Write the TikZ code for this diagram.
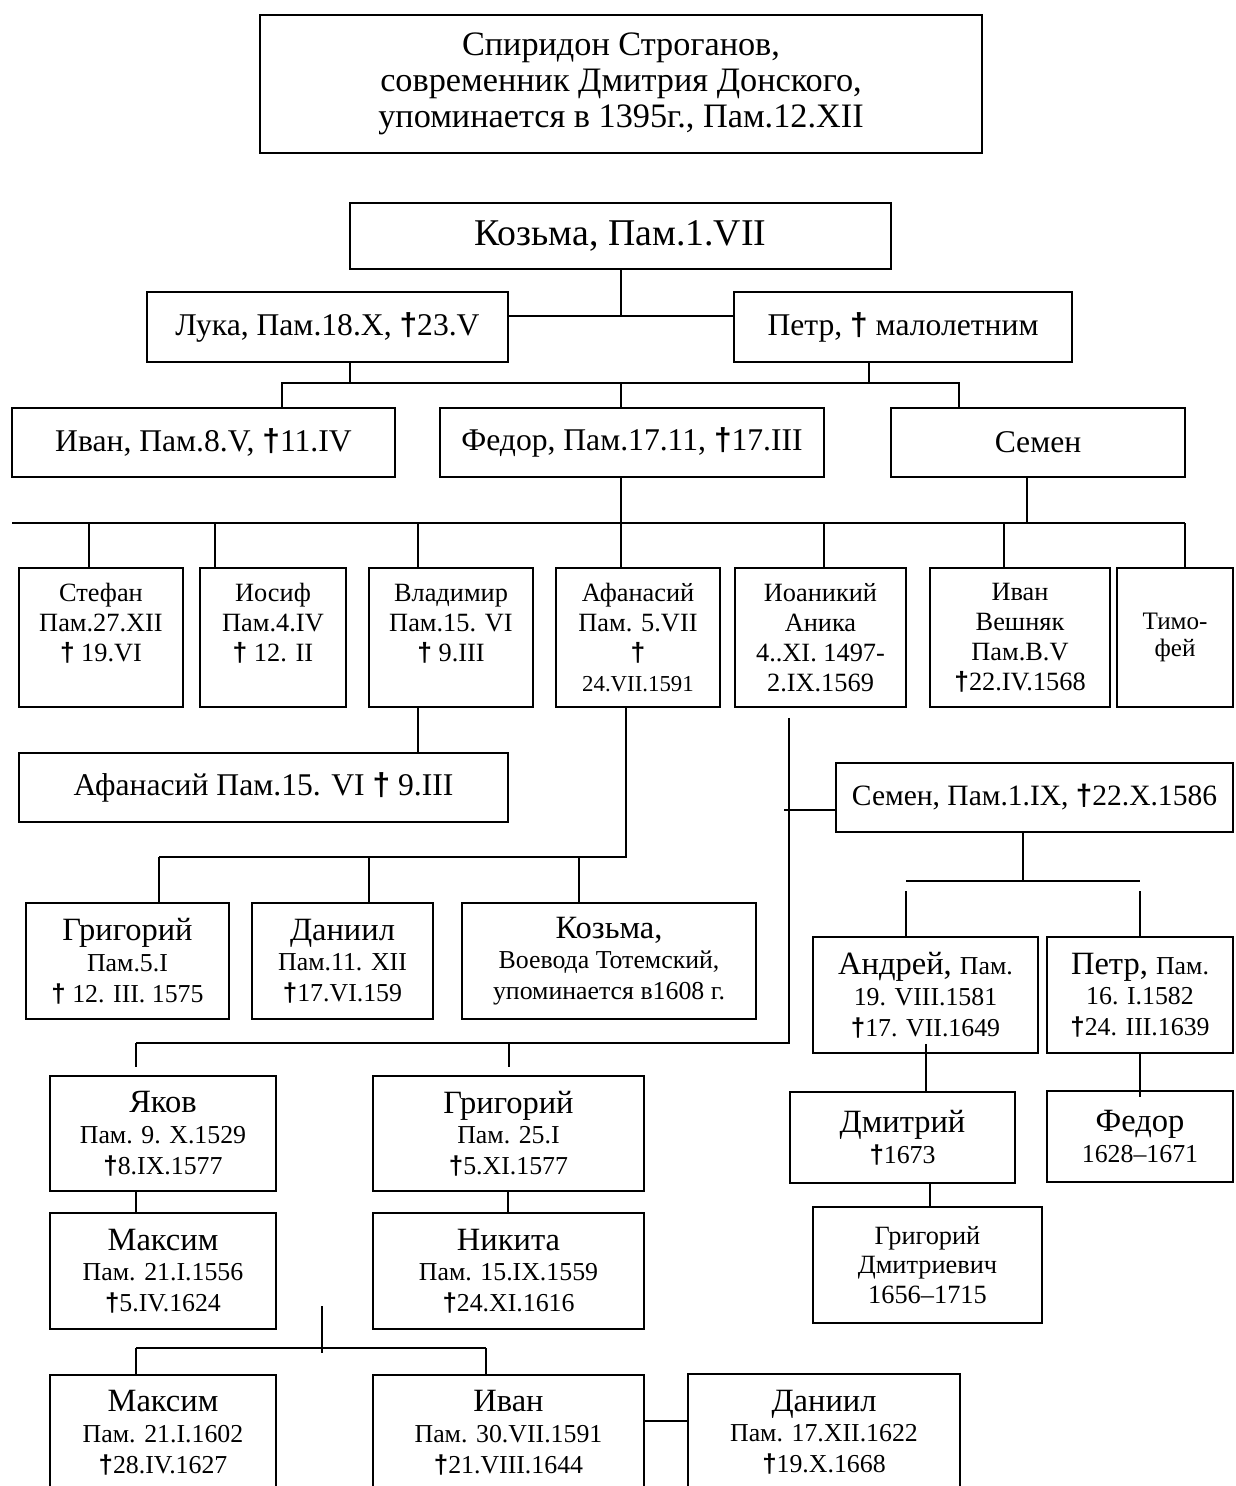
\documentclass[tikz,border=0pt]{standalone}
\usepackage{fontspec}
\setmainfont{Liberation Serif}
\newfontfamily\crossfont{Liberation Sans}

\newcommand\dg{{\crossfont\bfseries †}}
\newcommand\sub{\fontsize{14.7}{16}\selectfont}
\newcommand\tinyline{\fontsize{13}{15}\selectfont}

\tikzset{
  box/.style={draw, line width=1pt, inner sep=0pt, align=center},
  bigbox/.style={box, font=\fontsize{21.5}{24}\selectfont},
  mainbox/.style={box, font=\fontsize{18}{20}\selectfont},
  rowbox/.style={box, font=\fontsize{15}{17}\selectfont},
  namebox/.style={box, font=\fontsize{18.5}{17.5}\selectfont},
  link/.style={line width=1pt},
}

\begin{document}
\begin{tikzpicture}[x=0.02cm, y=-0.02cm]
  \useasboundingbox (0,0) rectangle (1235,1486);
  \clip (0,0) rectangle (1235,1486);

  % founders
  \node[box, font=\fontsize{19.5}{20.3}\selectfont, minimum width=14.44cm, minimum height=2.76cm] (spiridon) at (621,84) {Спиридон Строганов,\\современник Дмитрия Донского,\\упоминается в 1395г., Пам.12.XII};
  \node[bigbox, minimum width=10.82cm, minimum height=1.32cm] (kozma) at (620.5,236) {Козьма, Пам.1.VII};
  \node[mainbox, minimum width=7.22cm, minimum height=1.4cm] (luka) at (327.5,327) {Лука, Пам.18.X, \dg23.V};
  \node[mainbox, minimum width=6.76cm, minimum height=1.4cm] (petr) at (903,327) {Петр, \dg{} малолетним};
  \node[mainbox, minimum width=7.66cm, minimum height=1.38cm] (ivan) at (203.5,442.5) {Иван, Пам.8.V, \dg11.IV};
  \node[mainbox, minimum width=7.68cm, minimum height=1.38cm] (fedor) at (632,442.5) {Федор, Пам.17.11, \dg17.III};
  \node[mainbox, minimum width=5.88cm, minimum height=1.38cm] (semen) at (1038,442.5) {Семен};

  % sons of Fedor
  \node[rowbox, minimum width=3.28cm, minimum height=2.78cm] (stefan) at (101,637.5) {Стефан\\Пам.27.XII\\\dg{} 19.VI\\~};
  \node[rowbox, minimum width=2.92cm, minimum height=2.78cm] (iosif) at (273,637.5) {Иосиф\\Пам.4.IV\\\dg{} 12. II\\~};
  \node[rowbox, minimum width=3.28cm, minimum height=2.78cm] (vladimir) at (451,637.5) {Владимир\\Пам.15. VI\\\dg{} 9.III\\~};
  \node[rowbox, minimum width=3.28cm, minimum height=2.78cm] (afanasy) at (638,637.5) {Афанасий\\Пам. 5.VII\\\dg\\{\tinyline 24.VII.1591}};
  \node[rowbox, minimum width=3.42cm, minimum height=2.78cm] (ioanniky) at (820.5,637.5) {Иоаникий\\Аника\\4..XI. 1497-\\2.IX.1569};
  \node[rowbox, minimum width=3.6cm, minimum height=2.78cm] (veshnyak) at (1020,637.5) {Иван\\Вешняк\\Пам.В.V\\\dg22.IV.1568};
  \node[box, font=\fontsize{14.3}{15.3}\selectfont, minimum width=2.32cm, minimum height=2.78cm] (timofey) at (1175,637.5) {Тимо-\\фей};

  \node[mainbox, minimum width=9.78cm, minimum height=1.38cm] (afanasy2) at (263.5,787.5) {Афанасий Пам.15. VI \dg{} 9.III};
  \node[box, font=\fontsize{16.8}{20}\selectfont, minimum width=7.94cm, minimum height=1.38cm] (semen2) at (1034.5,797.5) {Семен, Пам.1.IX, \dg22.X.1586};

  \node[namebox, minimum width=4.06cm, minimum height=2.32cm] (grigory) at (127.5,961) {Григорий\\{\sub Пам.5.I}\\{\sub\dg{} 12. III. 1575}};
  \node[namebox, minimum width=3.62cm, minimum height=2.32cm] (daniil) at (342.5,961) {Даниил\\{\sub Пам.11. XII}\\{\sub\dg17.VI.159}};
  \node[namebox, minimum width=5.88cm, minimum height=2.32cm] (kozma2) at (609,961) {Козьма,\\{\sub Воевода Тотемский,}\\{\sub упоминается в1608 г.}};

  \node[namebox, minimum width=4.5cm, minimum height=2.32cm] (andrey) at (925.5,995) {Андрей, {\sub Пам.}\\{\sub 19. VIII.1581}\\{\sub\dg17. VII.1649}};
  \node[namebox, minimum width=3.72cm, minimum height=2.32cm] (petr2) at (1140,995) {Петр, {\sub Пам.}\\{\sub 16. I.1582}\\{\sub\dg24. III.1639}};
  \node[namebox, minimum width=4.5cm, minimum height=1.82cm] (dmitry) at (902.5,1137.5) {Дмитрий\\{\sub\dg1673}};
  \node[namebox, minimum width=3.72cm, minimum height=1.82cm] (fedor2) at (1140,1136.5) {Федор\\{\sub 1628–1671}};
  \node[rowbox, minimum width=4.58cm, minimum height=2.32cm] (grigoryd) at (927.5,1265) {Григорий\\Дмитриевич\\1656–1715};

  % line of Ioanniky
  \node[namebox, minimum width=4.52cm, minimum height=2.3cm] (yakov) at (163,1133.5) {Яков\\{\sub Пам. 9. X.1529}\\{\sub\dg8.IX.1577}};
  \node[namebox, minimum width=5.42cm, minimum height=2.3cm] (grigory2) at (508.5,1133.5) {Григорий\\{\sub Пам. 25.I}\\{\sub\dg5.XI.1577}};
  \node[namebox, minimum width=4.52cm, minimum height=2.32cm] (maxim) at (163,1271) {Максим\\{\sub Пам. 21.I.1556}\\{\sub\dg5.IV.1624}};
  \node[namebox, minimum width=5.42cm, minimum height=2.32cm] (nikita) at (508.5,1271) {Никита\\{\sub Пам. 15.IX.1559}\\{\sub\dg24.XI.1616}};
  \node[namebox, minimum width=4.52cm, minimum height=2.3cm] (maxim2) at (163,1432.5) {Максим\\{\sub Пам. 21.I.1602}\\{\sub\dg28.IV.1627}};
  \node[namebox, minimum width=5.42cm, minimum height=2.3cm] (ivan2) at (508.5,1432.5) {Иван\\{\sub Пам. 30.VII.1591}\\{\sub\dg21.VIII.1644}};
  \node[namebox, minimum width=5.44cm, minimum height=2.32cm] (daniil2) at (824,1432) {Даниил\\{\sub Пам. 17.XII.1622}\\{\sub\dg19.X.1668}};

  % Kozma -> Luka, Petr
  \coordinate (kz) at (621,316);
  \draw[link] (kozma.south -| kz) -- (kz);
  \draw[link] (luka.east |- kz) -- (petr.west |- kz);

  % Luka, Petr -> Ivan, Fedor, Semen
  \coordinate (barL) at (282,383);
  \coordinate (barR) at (959,383);
  \draw[link] (luka.south -| 350,0) -- (350,383);
  \draw[link] (petr.south -| 869,0) -- (869,383);
  \draw[link] (ivan.north -| barL) |- (barR) -- (semen.north -| barR);
  \draw[link] (fedor.north -| kz) -- (kz |- barL);

  % Fedor, Semen -> row of sons
  \coordinate (rowL) at (12,523);
  \coordinate (rowR) at (1185,523);
  \draw[link] (rowL) -- (rowR);
  \draw[link] (fedor.south -| kz) -- (kz |- rowL);
  \draw[link] (semen.south -| 1027,0) -- (1027,523);
  \foreach \x/\n in {89/stefan, 215/iosif, 418/vladimir, 621/afanasy, 824/ioanniky, 1004/veshnyak, 1185/timofey}
    \draw[link] (\x,523) -- (\n.north -| \x,0);

  \draw[link] (vladimir.south -| 418,0) -- (afanasy2.north -| 418,0);

  % Afanasy -> Grigory, Daniil, Kozma
  \coordinate (af) at (626,857);
  \draw[link] (afanasy.south -| af) -- (af) -- (159,857);
  \foreach \x/\n in {159/grigory, 369/daniil, 579/kozma2}
    \draw[link] (\x,857) -- (\n.north -| \x,0);

  % Ioanniky -> Semen, Yakov, Grigory
  \coordinate (io) at (789,1043);
  \draw[link, shorten <=0.2cm] (ioanniky.south -| io) -- (io) -- (136,1043);
  \draw[link] (784,810) -- (semen2.west |- 0,810);
  \foreach \x/\n in {136/yakov, 509/grigory2}
    \draw[link, shorten >=0.16cm] (\x,1043) -- (\n.north -| \x,0);

  % Semen -> Andrey, Petr
  \draw[link] (semen2.south -| 1023,0) -- (1023,881);
  \draw[link] (906,881) -- (1140,881);
  \foreach \x/\n in {906/andrey, 1140/petr2}
    \draw[link, shorten <=0.2cm] (\x,881) -- (\n.north -| \x,0);
  \draw[link, shorten <=-0.2cm] (andrey.south -| 926,0) -- (dmitry.north -| 926,0);
  \draw[link, shorten >=-0.14cm] (petr2.south -| 1140,0) -- (fedor2.north -| 1140,0);
  \draw[link] (dmitry.south -| 930,0) -- (grigoryd.north -| 930,0);

  \draw[link] (yakov.south -| 136,0) -- (maxim.north -| 136,0);
  \draw[link] (grigory2.south -| 508,0) -- (nikita.north -| 508,0);

  % Maxim, Nikita -> last row
  \draw[link] (322,1306) -- (322,1353);
  \draw[link] (136,1348) -- (486,1348);
  \draw[link] (136,1348) -- (maxim2.north -| 136,0);
  \draw[link] (486,1348) -- (ivan2.north -| 486,0);
  \draw[link] (ivan2.east |- 0,1421) -- (daniil2.west |- 0,1421);
\end{tikzpicture}
\end{document}
